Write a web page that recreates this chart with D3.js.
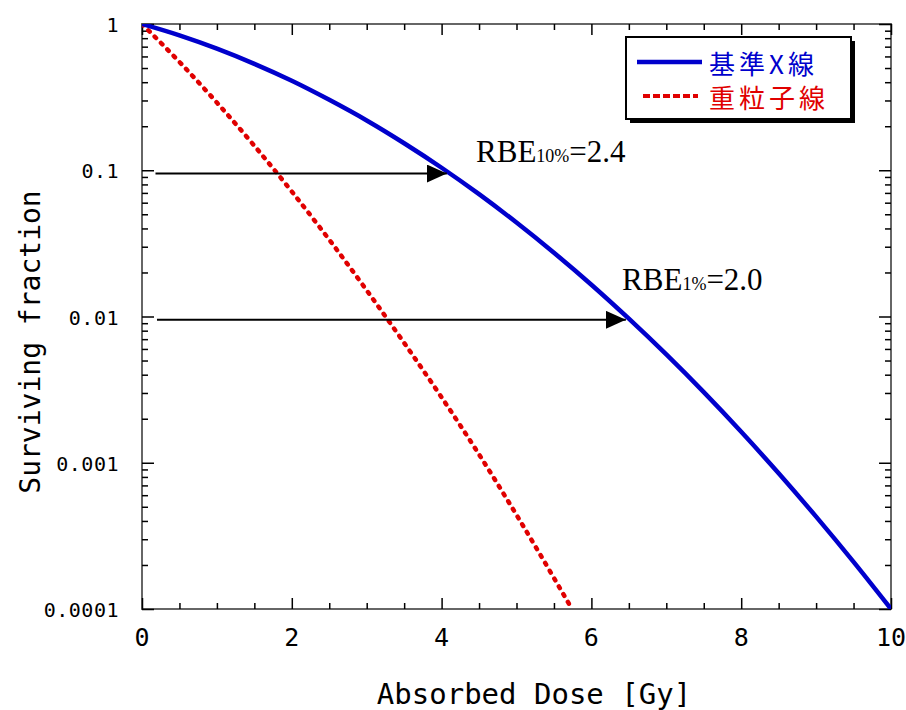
<!DOCTYPE html>
<html>
<head>
<meta charset="utf-8">
<script src="https://cdnjs.cloudflare.com/ajax/libs/d3/7.8.5/d3.min.js"></script>
<style>
body { margin: 0; background: #fff; }
text { fill: #000; }
</style>
</head>
<body>
<div id="chart"></div>
<script>
// survival curves (dose in Gy, surviving fraction)
var xrayDose = [0, 0.5, 1, 1.5, 2, 2.5, 3, 3.5, 4, 4.5, 5, 5.5, 6, 6.5, 7, 7.5, 8, 8.5, 9, 9.5, 10];
var xrayFraction = [1, 0.836, 0.678, 0.534, 0.409, 0.303, 0.219, 0.153, 0.104, 0.0686, 0.0439, 0.0273,
  0.0165, 0.00966, 0.0055, 0.00304, 0.00163, 0.000848, 0.000428, 0.00021, 0.0001];
var ionDose = [0, 0.5, 1, 1.5, 2, 2.5, 3, 3.5, 4, 4.5, 5, 5.5, 5.74];
var ionFraction = [1, 0.55, 0.29, 0.147, 0.0715, 0.0335, 0.0151, 0.0066, 0.0028, 0.00114, 0.00044, 0.000163, 0.0001];

var xTicks = [0, 2, 4, 6, 8, 10];
var yTicks = [1, 0.1, 0.01, 0.001, 0.0001];
var yTickLabels = ["1", "0.1", "0.01", "0.001", "0.0001"];
var seriesNames = ["基準X線", "重粒子線"];

// arrows: level, start dose, end dose; labels
var arrowLevel = [0.095, 0.0095];
var arrowFrom = [0.18, 0.2];
var arrowTo = [4.07, 6.46];
var rbeSub = ["10%", "1%"];
var rbeValue = ["=2.4", "=2.0"];
var rbeAtDose = [4.46, 6.41];
var rbeAtLevel = [0.114, 0.0152];

var W = 906, H = 710;
var L = 142, R = 891, T = 24, B = 609;
var mono = "'DejaVu Sans Mono', monospace";

var svg = d3.select("#chart").append("svg").attr("width", W).attr("height", H);

var x = d3.scaleLinear().domain([0, 10]).range([L, R]);
var y = d3.scaleLog().domain([0.0001, 1]).range([B, T]);

var xMinor = d3.range(0, 10.01, 0.5).filter(function(d) { return d % 2 != 0; });
var yMinor = [];
yTicks.slice(1).forEach(function(d) { for (var k = 2; k < 10; k++) yMinor.push(d * k); });

var defs = svg.append("defs");
defs.append("clipPath").attr("id", "clip").append("rect")
  .attr("x", L).attr("y", T).attr("width", R - L).attr("height", B - T);
defs.append("marker").attr("id", "head").attr("viewBox", "0 0 20 18")
  .attr("refX", 20).attr("refY", 9).attr("markerWidth", 20).attr("markerHeight", 18)
  .attr("markerUnits", "userSpaceOnUse").attr("orient", "auto")
  .append("path").attr("d", "M0,0L20,9L0,18Z").attr("fill", "#000");

// frame
svg.append("rect").attr("x", L).attr("y", T).attr("width", R - L).attr("height", B - T)
  .attr("fill", "none").attr("stroke", "#666").attr("stroke-width", 2);

function tickAxis(axis, tr) {
  var g = svg.append("g").attr("transform", tr).call(axis);
  g.select(".domain").remove();
  g.selectAll(".tick line").attr("stroke", "#000").attr("stroke-width", 1.5);
  return g;
}

tickAxis(d3.axisBottom(x).tickValues(xTicks).tickSize(-11).tickFormat(""), "translate(0," + B + ")");
tickAxis(d3.axisBottom(x).tickValues(xMinor).tickSize(-6).tickFormat(""), "translate(0," + B + ")");
tickAxis(d3.axisTop(x).tickValues(xTicks).tickSize(-11).tickFormat(""), "translate(0," + T + ")");
tickAxis(d3.axisTop(x).tickValues(xMinor).tickSize(-6).tickFormat(""), "translate(0," + T + ")");
tickAxis(d3.axisLeft(y).tickValues(yTicks).tickSize(-12).tickFormat(""), "translate(" + L + ",0)");
tickAxis(d3.axisLeft(y).tickValues(yMinor).tickSize(-6).tickFormat(""), "translate(" + L + ",0)");
tickAxis(d3.axisRight(y).tickValues(yTicks).tickSize(-12).tickFormat(""), "translate(" + R + ",0)");
tickAxis(d3.axisRight(y).tickValues(yMinor).tickSize(-6).tickFormat(""), "translate(" + R + ",0)");

// tick labels
svg.append("g").selectAll("text").data(xTicks).join("text")
  .attr("x", function(d) { return x(d); }).attr("y", 646)
  .attr("text-anchor", "middle").style("font-family", mono).style("font-size", "25px")
  .text(function(d) { return d; });

svg.append("g").selectAll("text").data(yTicks).join("text")
  .attr("x", 119).attr("y", function(d) { return y(d) + 8; })
  .attr("text-anchor", "end").style("font-family", mono).style("font-size", "20px")
  .style("letter-spacing", "0.5px")
  .text(function(d, i) { return yTickLabels[i]; });

// axis titles
svg.append("text").attr("x", 534).attr("y", 704).attr("text-anchor", "middle")
  .style("font-family", mono).style("font-size", "29px")
  .text("Absorbed Dose [Gy]");
svg.append("text").attr("transform", "translate(40,342) rotate(-90)").attr("text-anchor", "middle")
  .style("font-family", mono).style("font-size", "28px")
  .text("Surviving fraction");

// curves
var line = d3.line().x(function(d) { return x(d[0]); }).y(function(d) { return y(d[1]); })
  .curve(d3.curveMonotoneX);
var plot = svg.append("g").attr("clip-path", "url(#clip)");
plot.append("path").datum(d3.zip(ionDose, ionFraction)).attr("d", line)
  .attr("fill", "none").attr("stroke", "#e00000").attr("stroke-width", 4.5)
  .attr("stroke-linecap", "round").attr("stroke-dasharray", "2,7");
plot.append("path").datum(d3.zip(xrayDose, xrayFraction)).attr("d", line)
  .attr("fill", "none").attr("stroke", "#0000cc").attr("stroke-width", 4.5);

// RBE arrows and labels
svg.append("g").selectAll("line").data(arrowLevel).join("line")
  .attr("x1", function(d, i) { return x(arrowFrom[i]); })
  .attr("x2", function(d, i) { return x(arrowTo[i]); })
  .attr("y1", function(d) { return y(d); }).attr("y2", function(d) { return y(d); })
  .attr("stroke", "#000").attr("stroke-width", 2).attr("marker-end", "url(#head)");

var lab = svg.append("g").selectAll("text").data(rbeSub).join("text")
  .attr("x", function(d, i) { return x(rbeAtDose[i]); })
  .attr("y", function(d, i) { return y(rbeAtLevel[i]); })
  .style("font-family", "'Liberation Serif', serif").style("font-size", "31px");
lab.append("tspan").text("RBE");
lab.append("tspan").style("font-size", "18px").text(function(d) { return d; });
lab.append("tspan").text(function(d, i) { return rbeValue[i]; });

// legend
var lg = svg.append("g");
lg.append("rect").attr("x", 630).attr("y", 41).attr("width", 225).attr("height", 82).attr("fill", "#000");
lg.append("rect").attr("x", 626).attr("y", 37).attr("width", 225).attr("height", 82)
  .attr("fill", "#fff").attr("stroke", "#000").attr("stroke-width", 2);
lg.append("line").attr("x1", 637).attr("x2", 702).attr("y1", 62).attr("y2", 62)
  .attr("stroke", "#0000cc").attr("stroke-width", 4.5);
lg.append("line").attr("x1", 643).attr("x2", 698).attr("y1", 96).attr("y2", 96)
  .attr("stroke", "#e00000").attr("stroke-width", 4).attr("stroke-dasharray", "7,3");
lg.selectAll("text.name").data(seriesNames).join("text").attr("class", "name")
  .attr("x", 709).attr("y", function(d, i) { return i ? 108 : 74; })
  .style("font-family", "'Noto Sans CJK JP', sans-serif").style("font-size", "26px")
  .style("letter-spacing", "4px")
  .style("fill", function(d, i) { return i ? "#e00000" : "#0000cc"; })
  .text(function(d) { return d; });
</script>
</body>
</html>
